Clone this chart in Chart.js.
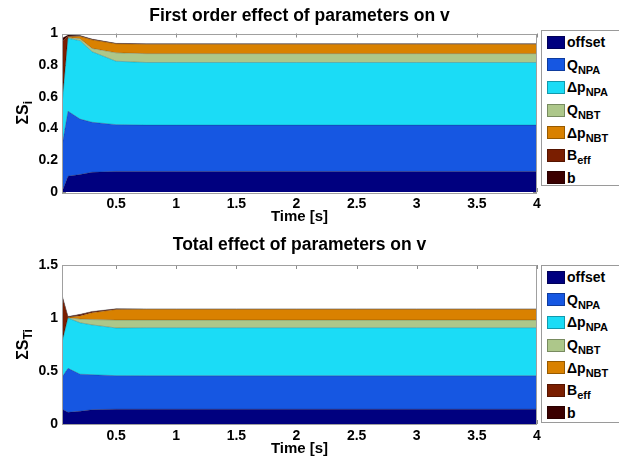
<!DOCTYPE html>
<html lang="en">
<head>
<meta charset="UTF-8">
<title>Sensitivity indices on v</title>
<style>
    body {
        margin: 0;
        background: #fff;
        font-family: "Liberation Sans", Arial, sans-serif;
    }
    .wrap {
        position: relative;
        width: 619px;
        height: 459px;
        overflow: hidden;
    }
    canvas {
        position: absolute;
        left: 0;
    }
    .legend {
        position: absolute;
        left: 541px;
        width: 90px;
        border: 1px solid #9a9a9a;
        background: #fff;
        box-sizing: border-box;
        padding-left: 5px;
    }
    .legend .row {
        height: 22.6px;
        display: flex;
        align-items: center;
        font-weight: bold;
        font-size: 14px;
        color: #000;
        white-space: nowrap;
    }
    .legend .sw {
        width: 18px;
        height: 13px;
        margin-right: 2px;
        box-sizing: border-box;
        border: 1px solid rgba(0, 0, 0, 0.3);
        flex: none;
    }
    .legend sub {
        font-size: 11px;
        vertical-align: -4px;
        line-height: 0;
    }
</style>
<script src="https://cdn.jsdelivr.net/npm/chart.js"></script>
</head>
<body>
<div class="wrap">
    <canvas id="firstChart" width="600" height="227" style="top:0"></canvas>
    <canvas id="totalChart" width="600" height="232" style="top:227px"></canvas>
    <div class="legend" id="firstLegend" style="top:30px;height:156px"></div>
    <div class="legend" id="totalLegend" style="top:265px;height:158px"></div>
</div>

<script>
    // time axis [s]
    const time = [0.05, 0.1, 0.2, 0.3, 0.5, 0.75, 1, 1.5, 2, 2.5, 3, 3.5, 4];

    // legend names (main part + subscript)
    const seriesNames = ['offset', 'Q', '\u0394p', 'Q', '\u0394p', 'B', 'b'];
    const seriesSubs = ['', 'NPA', 'NPA', 'NBT', 'NBT', 'eff', ''];

    // first order indices S_i (stacked)
    const firstOffset = [0.00, 0.10, 0.11, 0.125, 0.13, 0.13, 0.13, 0.13, 0.13, 0.13, 0.13, 0.13, 0.13];
    const firstQNPA   = [0.29, 0.41, 0.35, 0.315, 0.295, 0.292, 0.292, 0.292, 0.292, 0.292, 0.292, 0.292, 0.292];
    const firstDpNPA  = [0.26, 0.46, 0.495, 0.445, 0.40, 0.395, 0.395, 0.395, 0.395, 0.395, 0.395, 0.395, 0.395];
    const firstQNBT   = [0.00, 0.005, 0.012, 0.021, 0.053, 0.056, 0.056, 0.056, 0.056, 0.056, 0.056, 0.056, 0.056];
    const firstDpNBT  = [0.00, 0.005, 0.015, 0.054, 0.057, 0.059, 0.059, 0.059, 0.059, 0.059, 0.059, 0.059, 0.059];
    const firstBeff   = [0.40, 0.005, 0.003, 0.003, 0.002, 0.002, 0.002, 0.002, 0.002, 0.002, 0.002, 0.002, 0.002];
    const firstB      = [0.02, 0.005, 0.003, 0.002, 0.001, 0.001, 0.001, 0.001, 0.001, 0.001, 0.001, 0.001, 0.001];

    // total indices S_Ti (stacked)
    const totalOffset = [0.14, 0.11, 0.12, 0.135, 0.14, 0.14, 0.14, 0.14, 0.14, 0.14, 0.14, 0.14, 0.14];
    const totalQNPA   = [0.30, 0.415, 0.35, 0.33, 0.316, 0.315, 0.315, 0.315, 0.315, 0.315, 0.315, 0.315, 0.315];
    const totalDpNPA  = [0.33, 0.475, 0.485, 0.47, 0.45, 0.453, 0.453, 0.453, 0.453, 0.453, 0.453, 0.453, 0.453];
    const totalQNBT   = [0.00, 0.003, 0.035, 0.05, 0.075, 0.073, 0.073, 0.073, 0.073, 0.073, 0.073, 0.073, 0.073];
    const totalDpNBT  = [0.00, 0.003, 0.03, 0.065, 0.10, 0.101, 0.101, 0.101, 0.101, 0.101, 0.101, 0.101, 0.101];
    const totalBeff   = [0.43, 0.004, 0.01, 0.008, 0.004, 0.002, 0.002, 0.002, 0.002, 0.002, 0.002, 0.002, 0.002];
    const totalB      = [0.02, 0.005, 0.005, 0.004, 0.002, 0.001, 0.001, 0.001, 0.001, 0.001, 0.001, 0.001, 0.001];

    // tick labels
    const xTicks = [0.5, 1, 1.5, 2, 2.5, 3, 3.5, 4];
    const firstYTicks = [0, 0.2, 0.4, 0.6, 0.8, 1];
    const totalYTicks = [0, 0.5, 1, 1.5];

    const seriesColors = ['#00007f', '#1657e2', '#1bdcf6', '#adc78a', '#d98100', '#7a1e00', '#3b0000'];

    // box + inner tick marks like the matlab axes
    const framePlugin = {
        id: 'frame',
        beforeDatasetsDraw(chart) {
            const { ctx, chartArea: a, scales: { x, y } } = chart;
            ctx.save();
            ctx.strokeStyle = '#8c8c8c';
            ctx.lineWidth = 1;
            ctx.beginPath();
            x.ticks.forEach(t => {
                const px = Math.round(x.getPixelForValue(t.value)) + 0.5;
                ctx.moveTo(px, a.top); ctx.lineTo(px, a.top + 4);
                ctx.moveTo(px, a.bottom); ctx.lineTo(px, a.bottom - 4);
            });
            y.ticks.forEach(t => {
                const py = Math.round(y.getPixelForValue(t.value)) + 0.5;
                ctx.moveTo(a.left, py); ctx.lineTo(a.left + 4, py);
                ctx.moveTo(a.right, py); ctx.lineTo(a.right - 4, py);
            });
            ctx.stroke();
            ctx.restore();
        },
        afterDatasetsDraw(chart) {
            const { ctx, chartArea: a } = chart;
            ctx.save();
            ctx.strokeStyle = '#a0a0a0';
            ctx.lineWidth = 1;
            ctx.strokeRect(Math.round(a.left) + 0.5, Math.round(a.top) + 0.5,
                Math.round(a.right - a.left) - 1, Math.round(a.bottom - a.top));
            ctx.restore();
        }
    };

    // rotated y title with subscript (Chart.js titles can't do subscripts)
    const yTitlePlugin = {
        id: 'yTitle',
        afterDraw(chart, args, opts) {
            const { ctx, chartArea: a } = chart;
            const cy = (a.top + a.bottom) / 2;
            ctx.save();
            ctx.translate(28, cy);
            ctx.rotate(-Math.PI / 2);
            ctx.fillStyle = '#000';
            ctx.textBaseline = 'alphabetic';
            ctx.font = 'bold 16px "Liberation Sans", Arial';
            const w1 = ctx.measureText(opts.main).width;
            ctx.font = 'bold 12px "Liberation Sans", Arial';
            const w2 = ctx.measureText(opts.sub).width;
            const start = -(w1 + w2) / 2;
            ctx.font = 'bold 16px "Liberation Sans", Arial';
            ctx.fillText(opts.main, start, 0);
            ctx.font = 'bold 12px "Liberation Sans", Arial';
            ctx.fillText(opts.sub, start + w1, 4);
            ctx.restore();
        }
    };

    function makeChart(id, title, series, yTicks, yMax, ySub, titlePad) {
        const datasets = series.map((vals, i) => ({
            label: seriesNames[i] + seriesSubs[i],
            data: vals.map((v, k) => ({ x: time[k], y: v })),
            backgroundColor: seriesColors[i],
            borderColor: 'rgba(0, 0, 0, 0.3)',
            borderWidth: 0.7,
            pointRadius: 0,
            tension: 0,
            fill: i === 0 ? 'origin' : '-1'
        }));

        return new Chart(document.getElementById(id), {
            type: 'line',
            data: { datasets: datasets },
            options: {
                responsive: false,
                animation: false,
                devicePixelRatio: 1,
                layout: { padding: { left: 0, right: 63, top: 0, bottom: 0 } },
                plugins: {
                    legend: { display: false },
                    tooltip: { enabled: false },
                    title: {
                        display: true,
                        fullSize: false,
                        text: title,
                        color: '#000',
                        font: { family: '"Liberation Sans", Arial', size: 17.5, weight: 'bold' },
                        padding: titlePad
                    },
                    yTitle: { main: '\u03A3S', sub: ySub }
                },
                scales: {
                    x: {
                        type: 'linear',
                        min: 0.05,
                        max: 4,
                        afterBuildTicks: axis => { axis.ticks = xTicks.map(v => ({ value: v })); },
                        afterFit: axis => { axis.height = 35; },
                        grid: { display: false, drawTicks: false },
                        border: { display: false },
                        ticks: {
                            color: '#000',
                            padding: 4,
                            maxRotation: 0,
                            font: { family: '"Liberation Sans", Arial', size: 14, weight: 'bold' },
                            callback: v => String(v)
                        },
                        title: {
                            display: true,
                            text: 'Time [s]',
                            color: '#000',
                            font: { family: '"Liberation Sans", Arial', size: 15, weight: 'bold' },
                            padding: { top: 0, bottom: 1 }
                        }
                    },
                    y: {
                        type: 'linear',
                        stacked: true,
                        min: 0,
                        max: yMax,
                        afterBuildTicks: axis => { axis.ticks = yTicks.map(v => ({ value: v })); },
                        afterFit: axis => { axis.width = 62; },
                        grid: { display: false, drawTicks: false },
                        border: { display: false },
                        ticks: {
                            color: '#000',
                            padding: 4,
                            font: { family: '"Liberation Sans", Arial', size: 14, weight: 'bold' },
                            callback: v => String(v)
                        }
                    }
                }
            },
            plugins: [framePlugin, yTitlePlugin]
        });
    }

    function buildLegend(id) {
        const el = document.getElementById(id);
        seriesNames.forEach((name, i) => {
            const row = document.createElement('div');
            row.className = 'row';
            const sw = document.createElement('span');
            sw.className = 'sw';
            sw.style.background = seriesColors[i];
            const txt = document.createElement('span');
            txt.textContent = name;
            if (seriesSubs[i]) {
                const s = document.createElement('sub');
                s.textContent = seriesSubs[i];
                txt.appendChild(s);
            }
            row.append(sw, txt);
            el.appendChild(row);
        });
    }

    makeChart('firstChart', 'First order effect of parameters on v',
        [firstOffset, firstQNPA, firstDpNPA, firstQNBT, firstDpNBT, firstBeff, firstB],
        firstYTicks, 1, 'i', { top: 5.5, bottom: 7 });

    makeChart('totalChart', 'Total effect of parameters on v',
        [totalOffset, totalQNPA, totalDpNPA, totalQNBT, totalDpNBT, totalBeff, totalB],
        totalYTicks, 1.5, 'Ti', { top: 7.5, bottom: 9.5 });

    buildLegend('firstLegend');
    buildLegend('totalLegend');
</script>
</body>
</html>
